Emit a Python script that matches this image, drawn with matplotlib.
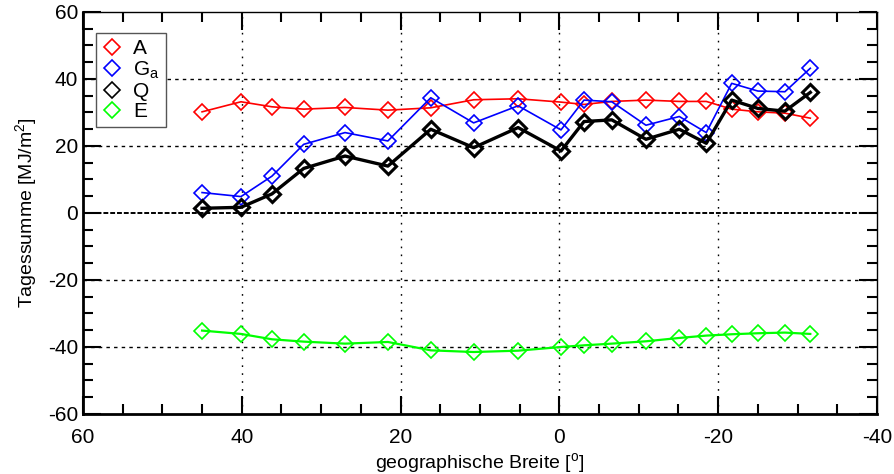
import numpy as np
import matplotlib
matplotlib.use("Agg")
import matplotlib.pyplot as plt
from matplotlib.ticker import MultipleLocator

plt.rcParams['font.family'] = ['Liberation Sans', 'DejaVu Sans']
plt.rcParams['mathtext.fontset'] = 'custom'
plt.rcParams['mathtext.rm'] = 'Liberation Sans'
plt.rcParams['axes.unicode_minus'] = False

# geographic latitude of the stations
lat = [45.0, 40.1, 36.2, 32.2, 27.0, 21.6, 16.2, 10.8, 5.2, -0.2,
       -3.1, -6.6, -10.9, -15.1, -18.5, -21.7, -25.0, -28.4, -31.6]

A = [30.2, 33.2, 31.7, 31.0, 31.5, 30.7, 31.4, 33.8, 34.1, 33.1,
     32.4, 33.3, 33.7, 33.3, 33.3, 31.0, 30.2, 29.8, 28.3]
Ga = [6.1, 4.9, 11.0, 20.5, 24.0, 21.5, 34.4, 26.9, 32.0, 24.8,
      33.7, 33.2, 26.2, 28.8, 24.0, 38.7, 36.4, 36.2, 43.2]
Q = [1.4, 1.7, 5.7, 13.3, 17.0, 14.0, 25.0, 19.5, 25.5, 18.5,
     27.3, 27.8, 22.0, 25.0, 20.8, 33.7, 31.2, 30.4, 36.0]
E = [-35.1, -36.1, -37.7, -38.4, -39.0, -38.5, -41.0, -41.5, -41.1, -40.0,
     -39.5, -39.0, -38.3, -37.3, -36.6, -36.2, -35.9, -35.7, -36.1]

fig = plt.figure(figsize=(8.95, 4.74), dpi=100)
ax = fig.add_axes([0.0927, 0.1266, 0.8872, 0.8481])

ax.set_xlim(60, -40)
ax.set_ylim(-60, 60)

# grid: dotted verticals, dashed horizontals
for xv in [40, 20, 0, -20]:
    ax.axvline(xv, color='black', lw=1.0, ls=(0, (1.2, 4.5)), zorder=1)
for yv in [40, 20, -20, -40]:
    ax.axhline(yv, color='black', lw=1.0, ls=(0, (2.5, 3.0)), zorder=1)
ax.axhline(0, color='black', lw=1.4, ls=(0, (2.5, 1)), zorder=1)

mk = dict(marker='D', markersize=8, markerfacecolor='none', markeredgewidth=1.2)
ax.plot(lat, A, color='#ff0000', lw=1.2, label='A', zorder=3, **mk)
ax.plot(lat, Ga, color='#0000ff', lw=1.2, label=r'G$_\mathregular{a}$', zorder=3, **mk)
ax.plot(lat, Q, color='black', lw=2.4, label='Q', zorder=4,
        marker='D', markersize=8, markerfacecolor='none', markeredgewidth=2.2)
ax.plot(lat, E, color='#00ff00', lw=1.6, label='E', zorder=3, **mk)

ax.xaxis.set_major_locator(MultipleLocator(20))
ax.xaxis.set_minor_locator(MultipleLocator(5))
ax.yaxis.set_major_locator(MultipleLocator(20))
ax.yaxis.set_minor_locator(MultipleLocator(5))
ax.tick_params(which='both', direction='in', top=True, right=True, labelsize=15, width=1.5)
ax.tick_params(which='major', length=13)
ax.tick_params(which='minor', length=7.5)
ax.tick_params(axis='x', pad=10)

for s in ['left', 'bottom']:
    ax.spines[s].set_linewidth(2.0)
for s in ['top', 'right']:
    ax.spines[s].set_linewidth(1.0)

ax.set_xlabel(r'geographische Breite [$^\mathregular{o}$]', fontsize=14, labelpad=3)
ax.set_ylabel(r'Tagessumme [MJ/m$^\mathregular{2}$]', fontsize=14, labelpad=6)

leg = ax.legend(loc='upper left', bbox_to_anchor=(0.016, 0.948), fontsize=15,
                handlelength=1.0, handletextpad=0.5, labelspacing=0.05,
                borderpad=0.3, borderaxespad=0, fancybox=False, framealpha=1)
leg.get_frame().set_edgecolor('#555555')
leg.get_frame().set_linewidth(1.0)
for h in leg.legend_handles:
    h.set_linestyle('none')
    h.set_markeredgewidth(1.2)

fig.savefig('out.png', dpi=100)
